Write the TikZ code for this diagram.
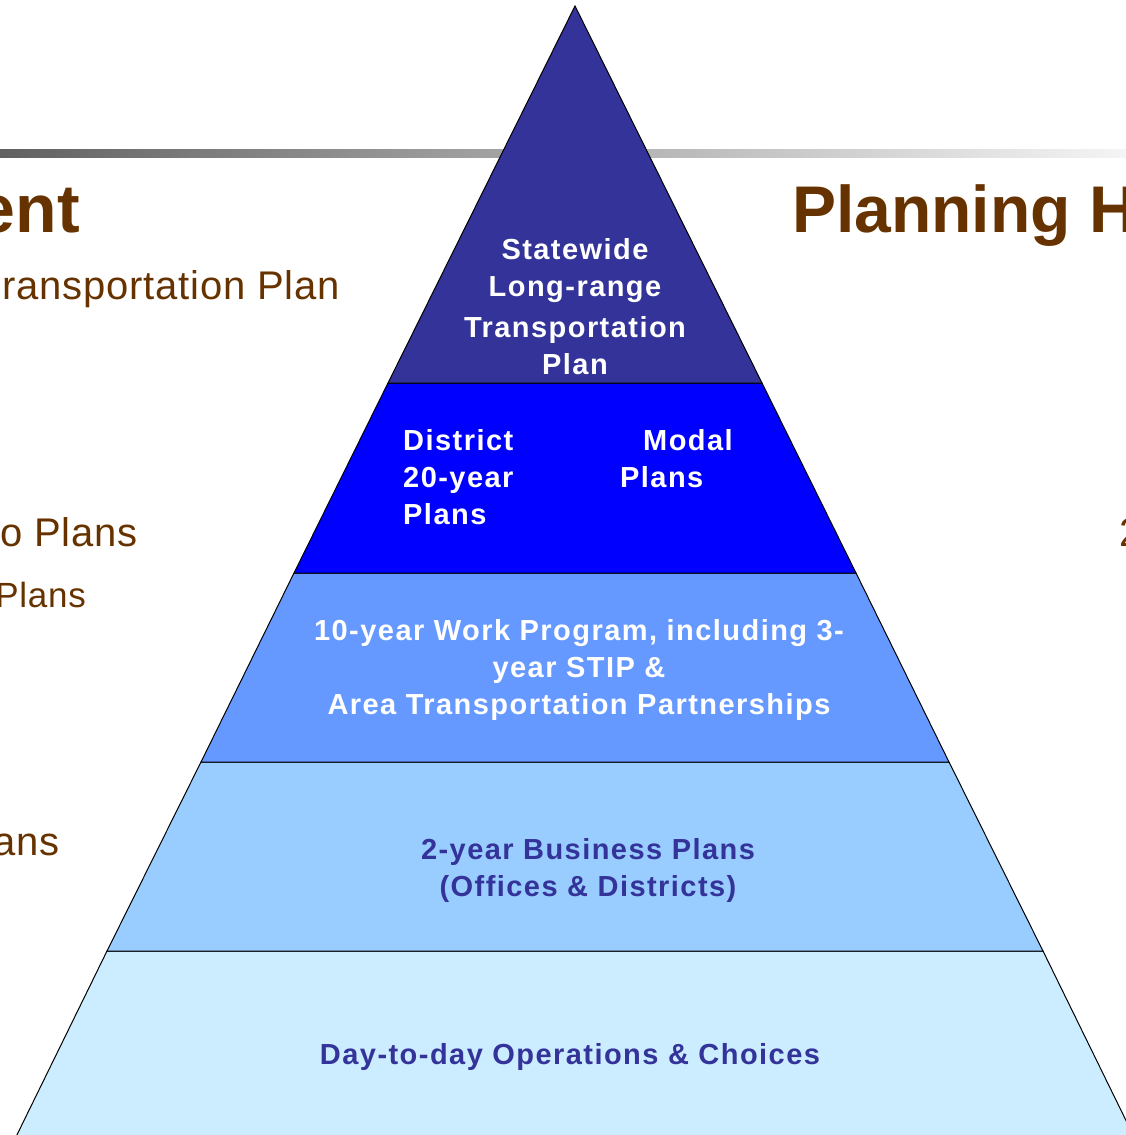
\documentclass[tikz,border=0pt]{standalone}
\usepackage{fontspec}
\setmainfont{Liberation Sans}
\newfontfamily\tierfont[LetterSpace=5]{Liberation Sans}
\newfontfamily\sidefont[LetterSpace=2]{Liberation Sans}

\definecolor{topblue}{HTML}{333399}
\definecolor{midblue}{HTML}{0000FF}
\definecolor{workblue}{HTML}{6699FF}
\definecolor{bizblue}{HTML}{99CCFF}
\definecolor{daybg}{HTML}{CCECFF}
\definecolor{titlebrown}{HTML}{663300}

\tikzset{
  tier/.style={draw=black, line width=1pt},
  tierlabel/.style={font=\tierfont\bfseries\fontsize{29}{37}\selectfont,
                    align=center, inner sep=0pt},
  sidetext/.style={text=titlebrown, inner sep=0pt, anchor=base east},
}

\begin{document}
\begin{tikzpicture}[x=1pt, y=-1pt]
  \useasboundingbox (0,0) rectangle (1126,1135);
  \clip (0,0) rectangle (1126,1135);

  % -- grey rule across the page
  \shade [left color=black!62, right color=black!4] (0,149) rectangle (1126,157);

  % -- side texts
  \node [sidetext, font=\bfseries\fontsize{68}{80}\selectfont] (titleleft) at (80,232) {ent};
  \node [sidetext, font=\sidefont\fontsize{40}{48}\selectfont] (longrange) at (340,299) {ransportation Plan};
  \node [sidetext, font=\sidefont\fontsize{40}{48}\selectfont] (metroplans) at (138,546) {o Plans};
  \node [sidetext, font=\sidefont\fontsize{35}{42}\selectfont] (modalplans) at (86,607) {Plans};
  \node [sidetext, font=\sidefont\fontsize{40}{48}\selectfont] (bizplans) at (60,855) {ans};
  \node [sidetext, anchor=base west, font=\bfseries\fontsize{66}{80}\selectfont]
        (titleright) at (792,232) {Planning H};
  \node [sidetext, anchor=base west, font=\sidefont\fontsize{40}{48}\selectfont] (twoyear) at (1119,546) {2};

  % -- pyramid, bottom tier first
  \filldraw [tier, fill=daybg]   (12,1145) -- (107,951) -- (1043,951) -- (1138,1145) -- cycle;
  \filldraw [tier, fill=bizblue] (107,951) -- (201,762) -- (949,762) -- (1043,951) -- cycle;
  \filldraw [tier, fill=workblue] (201,762) -- (294,573) -- (856,573) -- (949,762) -- cycle;
  \filldraw [tier, fill=midblue] (294,573) -- (388,383) -- (762,383) -- (856,573) -- cycle;
  \filldraw [tier, fill=topblue] (388,383) -- (575,6) -- (762,383) -- cycle;

  % -- labels of the tiers
  \node [tierlabel, text=white] (statewide) at (575,307)
        {Statewide\\Long-range\\[4pt]Transportation\\Plan};
  \node [tierlabel, text=white, align=left, anchor=west] (district) at (403,477)
        {District\\20-year\\Plans};
  \node [tierlabel, text=white, align=left, anchor=west] (modal) at (620,459)
        {\hspace*{23pt}Modal\\Plans};
  \node [tierlabel, text=white] (workprog) at (579,670)
        {10-year Work Program, including 3-\\year STIP \&\\Area Transportation Partnerships};
  \node [tierlabel, text=topblue] (business) at (588,870)
        {2-year Business Plans\\(Offices \& Districts)};
  \node [tierlabel, text=topblue] (daytoday) at (570,1057)
        {Day-to-day Operations \& Choices};
\end{tikzpicture}
\end{document}
